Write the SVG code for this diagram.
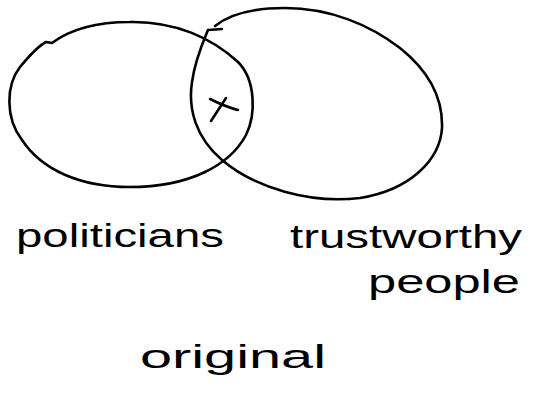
<svg xmlns="http://www.w3.org/2000/svg" width="536" height="412" viewBox="0 0 536 412">
<style>
.ink{fill:none;stroke:#000;stroke-width:2.6;stroke-linecap:round;stroke-linejoin:round}
.lbl{font-family:"Liberation Sans",Arial,sans-serif;font-size:34px;fill:#000}
</style>
<rect width="536" height="412" fill="#fff"/>
<g id="politicians-set">
<path class="ink" d="M52,43 C72,28 100,22 130,22 C175,21 212,38 238,62 C256,80 256,115 246,135 C230,165 190,187 130,187 C80,187 42,170 22,140 C5,118 6,85 20,67 C30,55 38,46 46,42 L52,43"/>
</g>
<g id="trustworthy-set">
<path class="ink" d="M215,26 C230,14 255,8 285,8 C330,8 370,25 400,48 C430,72 443,100 442,128 C440,160 410,190 360,198 C310,204 255,188 222,160 C195,137 188,108 192,82 C195,60 203,42 208,30 L222,29"/>
</g>
<g id="intersection-mark">
<path class="ink" d="M226,98 L211,121 M210,99 C220,104 230,108 238,110"/>
</g>
<g id="labels">
<text id="label-politicians" class="lbl" x="16" y="247" textLength="208" lengthAdjust="spacingAndGlyphs">politicians</text>
<text id="label-trustworthy" class="lbl" x="290" y="248" textLength="232" lengthAdjust="spacingAndGlyphs">trustworthy</text>
<text id="label-people" class="lbl" x="368" y="293" textLength="152" lengthAdjust="spacingAndGlyphs">people</text>
<text id="label-original" class="lbl" x="140" y="368" textLength="186" lengthAdjust="spacingAndGlyphs">original</text>
</g>
<g id="connectors"></g>
</svg>
